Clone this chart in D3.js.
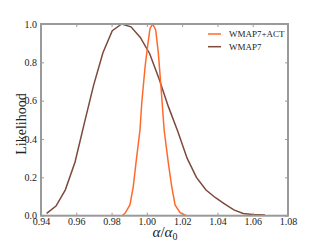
<!DOCTYPE html>
<html><head><meta charset="utf-8">
<script src="https://cdn.jsdelivr.net/npm/d3@7"></script>
<style>body{margin:0;background:#fff}svg{display:block}
text{font-family:"Liberation Serif","Times New Roman",Times,"DejaVu Serif",serif}</style>
</head><body>
<script>
const wmap7X = [0.9432,0.9485,0.9538,0.9593,0.9645,0.9698,0.9751,0.9804,0.9857,0.9910,0.9963,1.0016,1.0069,1.0122,1.0175,1.0228,1.0281,1.0334,1.0387,1.0440,1.0493,1.0546,1.0599,1.0670];
const wmap7Y = [0.012,0.05,0.135,0.28,0.48,0.68,0.85,0.965,1.0,0.985,0.93,0.845,0.714,0.569,0.44,0.30,0.20,0.135,0.095,0.062,0.03,0.012,0.006,0.004];
const actX = [0.9860,0.9876,0.9904,0.9923,0.9938,0.9961,0.9971,0.9990,1.0005,1.0018,1.0033,1.0050,1.0065,1.0080,1.0098,1.0122,1.0141,1.0160,1.0188,1.0225];
const actY = [0.0,0.0125,0.056,0.151,0.273,0.447,0.588,0.777,0.89,0.977,1.0,0.969,0.849,0.673,0.447,0.273,0.151,0.056,0.016,0.0];
const xTicks = [0.94,0.96,0.98,1.00,1.02,1.04,1.06,1.08];
const yTicks = [0.0,0.2,0.4,0.6,0.8,1.0];
const seriesNames = ["WMAP7+ACT","WMAP7"];
const seriesColors = ["#ff6a2a","#7c4a3b"];

const W=320,H=240;
const svg=d3.select("body").append("svg").attr("width",W).attr("height",H);
const x=d3.scaleLinear().domain([0.94,1.08]).range([41,288]);
const y=d3.scaleLinear().domain([0,1]).range([215.7,24]);
const axisCol="#9a9a9a";

const line=d3.line().x(d=>x(d[0])).y(d=>y(d[1]));
svg.append("path").datum(d3.zip(wmap7X,wmap7Y)).attr("d",line)
  .attr("fill","none").attr("stroke",seriesColors[1]).attr("stroke-width",1.5);
svg.append("path").datum(d3.zip(actX,actY)).attr("d",line)
  .attr("fill","none").attr("stroke",seriesColors[0]).attr("stroke-width",1.5);

function styleAxis(g){
  g.attr("font-family",null);
  g.select(".domain").remove();
  g.selectAll(".tick line").attr("stroke",axisCol).attr("stroke-width",1);
  g.selectAll(".tick text").attr("font-size",10).attr("fill","#222");
}
const fmt=d3.format(".2f"), fmt1=d3.format(".1f");
svg.append("g").attr("transform","translate(0,215.7)")
  .call(d3.axisBottom(x).tickValues(xTicks).tickFormat(fmt).tickSizeInner(-3).tickPadding(2))
  .call(styleAxis);
svg.append("g").attr("transform","translate(0,24)")
  .call(d3.axisTop(x).tickValues(xTicks).tickFormat("").tickSizeInner(-3))
  .call(styleAxis);
svg.append("g").attr("transform","translate(41,0)")
  .call(d3.axisLeft(y).tickValues(yTicks).tickFormat(fmt1).tickSizeInner(-3).tickPadding(4))
  .call(styleAxis);
svg.append("g").attr("transform","translate(288,0)")
  .call(d3.axisRight(y).tickValues(yTicks).tickFormat("").tickSizeInner(-3))
  .call(styleAxis);

svg.append("rect").attr("x",41).attr("y",24).attr("width",247).attr("height",191.7)
  .attr("fill","none").attr("stroke",axisCol).attr("stroke-width",2);

// legend
seriesNames.forEach((n,i)=>{
  const ly=34+i*12.7;
  svg.append("line").attr("x1",208).attr("x2",221).attr("y1",ly).attr("y2",ly)
    .attr("stroke",seriesColors[i]).attr("stroke-width",1.5);
  svg.append("text").attr("x",229).attr("y",ly+3.3).text(n)
    .attr("font-size",9).attr("fill","#222");
});

// axis labels
svg.append("text").attr("transform","translate(26,124) rotate(-90)").attr("text-anchor","middle")
  .attr("font-size",14).attr("fill","#222").text("Likelihood");
const xl=svg.append("text").attr("x",165).attr("y",237).attr("text-anchor","middle")
  .attr("font-size",15).attr("fill","#222");
xl.append("tspan").attr("font-style","italic").text("α");
xl.append("tspan").text("/");
xl.append("tspan").attr("font-style","italic").text("α");
xl.append("tspan").attr("font-size",10).attr("dy",2.5).text("0");
</script>
</body></html>
